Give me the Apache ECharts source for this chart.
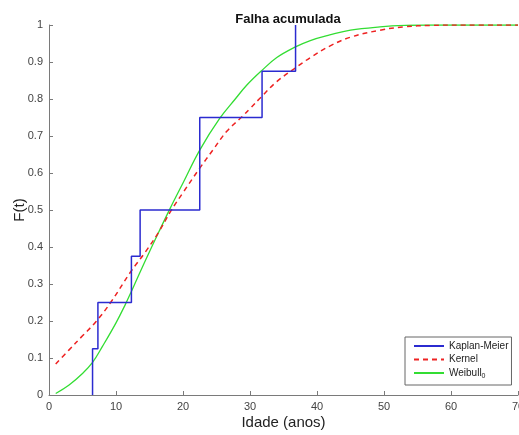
<!DOCTYPE html>
<html>
<head>
<meta charset="utf-8">
<script src="https://cdn.jsdelivr.net/npm/echarts@6/dist/echarts.min.js"></script>
<style>
  html, body { margin: 0; padding: 0; background: #fff; }
  #falha { width: 519px; height: 435px; }
</style>
</head>
<body>
<div id="falha"></div>
<script>
// Kaplan-Meier: tempos de falha e F(t) depois de cada falha
const kmTempos = [6.5, 7.3, 12.3, 13.6, 22.5, 31.8, 36.8];
const kmF = [0.125, 0.25, 0.375, 0.5, 0.75, 0.875, 1.0];

// Kernel (tracejado vermelho)
const kernelX = [1, 3, 5, 7, 9.2, 12.2, 14.4, 16.4, 18.1, 20, 22.5, 24.5, 26.5, 28.8, 30, 31.7, 34, 36.7, 39, 41.9, 45, 49.4, 53, 57, 62, 70];
const kernelF = [0.084, 0.122, 0.16, 0.198, 0.25, 0.333, 0.387, 0.441, 0.495, 0.547, 0.613, 0.663, 0.712, 0.752, 0.774, 0.806, 0.847, 0.883, 0.912, 0.943, 0.967, 0.986, 0.995, 0.999, 1.0, 1.0];

// Weibull_0 (verde)
const weibullX = [1, 3, 5, 6.5, 8, 10, 11.4, 12.3, 14.3, 16.4, 18.1, 20, 22.5, 25.5, 27.8, 29.5, 31.7, 34, 36.7, 39, 41.9, 45, 49.4, 53, 57, 62, 70];
const weibullF = [0.004, 0.027, 0.058, 0.088, 0.132, 0.195, 0.245, 0.28, 0.36, 0.441, 0.505, 0.573, 0.662, 0.748, 0.8, 0.837, 0.876, 0.912, 0.94, 0.958, 0.973, 0.986, 0.995, 0.999, 1.0, 1.0, 1.0];

const xTicks = [0, 10, 20, 30, 40, 50, 60, 70];
const yTicks = [0, 0.1, 0.2, 0.3, 0.4, 0.5, 0.6, 0.7, 0.8, 0.9, 1];

// escada do KM
let kmData = [[kmTempos[0], 0]];
kmTempos.forEach((t, i) => {
  kmData.push([t, i === 0 ? 0 : kmF[i - 1]]);
  kmData.push([t, kmF[i]]);
  if (i < kmTempos.length - 1) kmData.push([kmTempos[i + 1], kmF[i]]);
});

const kernelData = kernelX.map((x, i) => [x, kernelF[i]]);
const weibullData = weibullX.map((x, i) => [x, weibullF[i]]);

const chart = echarts.init(document.getElementById("falha"));
const eixo = '#7a7a7a';
const fonte = 'Liberation Sans, Arial, sans-serif';

let option = {
  animation: false,
  title: {
    text: 'Falha acumulada',
    left: 283,
    top: 8,
    textAlign: 'center',
    textStyle: { fontSize: 13, fontWeight: 'bold', color: '#111', fontFamily: fonte }
  },
  grid: { left: 49, right: 1, top: 25, bottom: 40, containLabel: false, outerBoundsMode: 'none' },
  legend: {
    orient: 'vertical',
    left: 405,
    top: 337,
    itemWidth: 30,
    itemHeight: 10,
    itemGap: 3.5,
    padding: [4, 3, 5, 8],
    backgroundColor: '#fff',
    borderColor: '#666',
    borderWidth: 1,
    borderRadius: 0,
    itemStyle: { opacity: 0 },
    data: ['Kaplan-Meier', 'Kernel', 'Weibull0'],
    formatter(name) {
      return name === 'Weibull0' ? 'Weibull{sub|0}' : name;
    },
    textStyle: {
      fontSize: 10,
      color: '#222',
      fontFamily: fonte,
      rich: { sub: { fontSize: 7, padding: [7, 0, 0, 0], color: '#222', fontFamily: fonte } }
    }
  },
  xAxis: {
    type: 'value',
    min: xTicks[0],
    max: xTicks[xTicks.length - 1],
    interval: 10,
    name: 'Idade (anos)',
    nameLocation: 'middle',
    nameGap: 20,
    nameMoveOverlap: false,
    nameTextStyle: { fontSize: 15, color: '#222', fontFamily: fonte },
    axisLine: { lineStyle: { color: eixo, width: 1 } },
    axisTick: { inside: true, length: 4, lineStyle: { color: eixo } },
    axisLabel: { color: '#444', fontSize: 11, margin: 6, fontFamily: fonte },
    splitLine: { show: false }
  },
  yAxis: {
    type: 'value',
    min: yTicks[0],
    max: yTicks[yTicks.length - 1],
    interval: 0.1,
    name: 'F(t)',
    nameLocation: 'middle',
    nameGap: 22,
    nameMoveOverlap: false,
    nameTextStyle: { fontSize: 15, color: '#222', fontFamily: fonte },
    axisLine: { show: true, lineStyle: { color: eixo, width: 1 } },
    axisTick: { show: true, inside: true, length: 4, lineStyle: { color: eixo } },
    axisLabel: {
      color: '#444', fontSize: 11, margin: 6, fontFamily: fonte,
      formatter: v => String(Math.round(v * 10) / 10)
    },
    splitLine: { show: false }
  },
  series: [
    {
      name: 'Kaplan-Meier',
      type: 'line',
      data: kmData,
      symbol: 'none',
      lineStyle: { color: '#2b2bd0', width: 1.5 },
      itemStyle: { color: '#2b2bd0' },
      z: 3
    },
    {
      name: 'Kernel',
      type: 'line',
      data: kernelData,
      smooth: 0.4,
      symbol: 'none',
      lineStyle: { color: '#ee2222', width: 1.5, type: [5, 4] },
      itemStyle: { color: '#ee2222' },
      z: 2
    },
    {
      name: 'Weibull0',
      type: 'line',
      data: weibullData,
      smooth: 0.4,
      symbol: 'none',
      lineStyle: { color: '#33dd33', width: 1.3 },
      itemStyle: { color: '#33dd33' },
      z: 1
    }
  ]
};
option && chart.setOption(option);
</script>
</body>
</html>
